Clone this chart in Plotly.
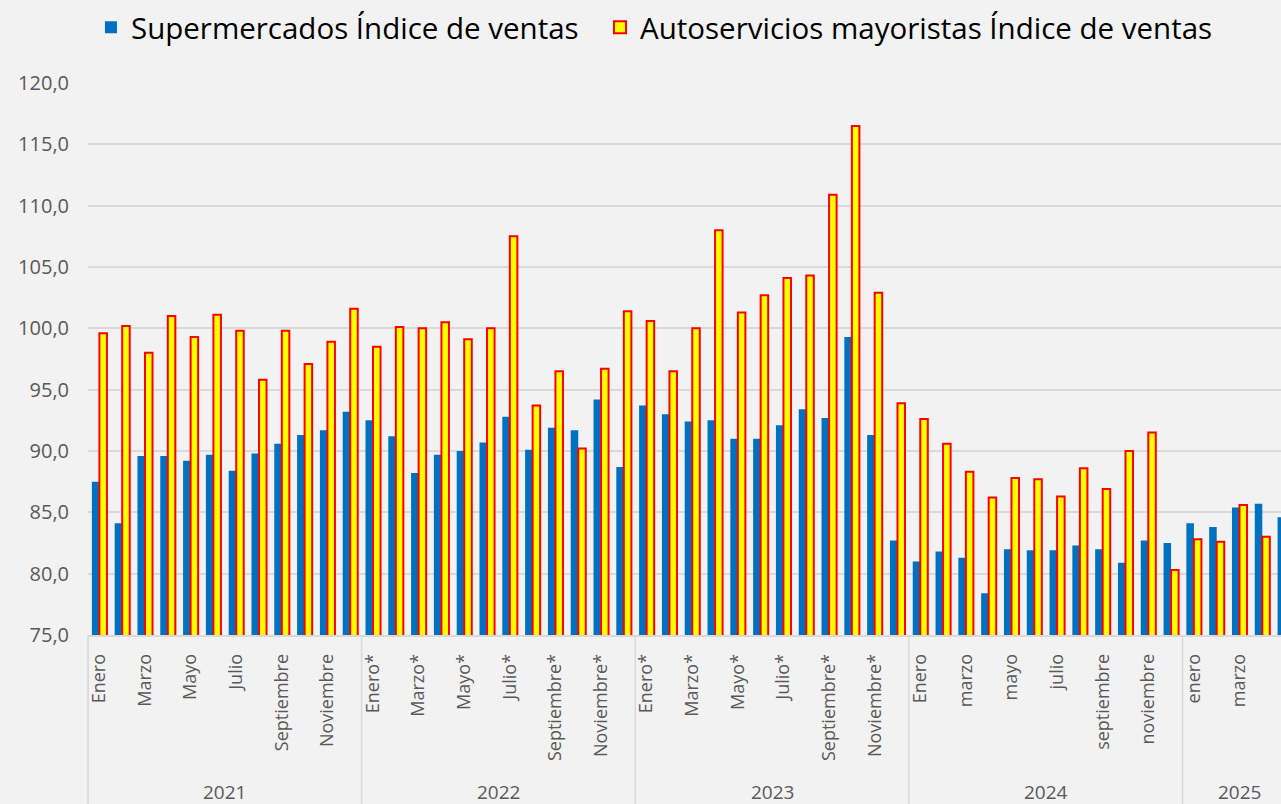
import plotly.graph_objects as go

# Índices de ventas mensuales, enero 2021 - mayo 2025
years = ["2021", "2022", "2023", "2024", "2025"]
months_per_year = [12, 12, 12, 12, 5]

month_labels = [
    # 2021
    "Enero", "Febrero", "Marzo", "Abril", "Mayo", "Junio",
    "Julio", "Agosto", "Septiembre", "Octubre", "Noviembre", "Diciembre",
    # 2022
    "Enero*", "Febrero*", "Marzo*", "Abril*", "Mayo*", "Junio*",
    "Julio*", "Agosto*", "Septiembre*", "Octubre*", "Noviembre*", "Diciembre*",
    # 2023
    "Enero*", "Febrero*", "Marzo*", "Abril*", "Mayo*", "Junio*",
    "Julio*", "Agosto*", "Septiembre*", "Octubre*", "Noviembre*", "Diciembre*",
    # 2024
    "Enero", "febrero", "marzo", "abril", "mayo", "junio",
    "julio", "agosto", "septiembre", "octubre", "noviembre", "diciembre",
    # 2025
    "enero", "febrero", "marzo", "abril", "mayo",
]

supermercados = [
    87.5, 84.1, 89.6, 89.6, 89.2, 89.7, 88.4, 89.8, 90.6, 91.3, 91.7, 93.2,
    92.5, 91.2, 88.2, 89.7, 90.0, 90.7, 92.8, 90.1, 91.9, 91.7, 94.2, 88.7,
    93.7, 93.0, 92.4, 92.5, 91.0, 91.0, 92.1, 93.4, 92.7, 99.3, 91.3, 82.7,
    81.0, 81.8, 81.3, 78.4, 82.0, 81.9, 81.9, 82.3, 82.0, 80.9, 82.7, 82.5,
    84.1, 83.8, 85.4, 85.7, 84.6,
]

autoservicios = [
    99.6, 100.2, 98.0, 101.0, 99.3, 101.1, 99.8, 95.8, 99.8, 97.1, 98.9, 101.6,
    98.5, 100.1, 100.0, 100.5, 99.1, 100.0, 107.5, 93.7, 96.5, 90.2, 96.7, 101.4,
    100.6, 96.5, 100.0, 108.0, 101.3, 102.7, 104.1, 104.3, 110.9, 116.5, 102.9, 93.9,
    92.6, 90.6, 88.3, 86.2, 87.8, 87.7, 86.3, 88.6, 86.9, 90.0, 91.5, 80.3,
    82.8, 82.6, 85.6, 83.0, None,
]


def main():
    # one category per month, e.g. "2021-01"
    periods = []
    for year, n in zip(years, months_per_year):
        for m in range(n):
            periods.append(f"{year}-{m + 1:02d}")

    grey = "#595959"
    grid = "#d9d9d9"

    fig = go.Figure()
    fig.add_trace(
        go.Bar(
            x=periods,
            y=supermercados,
            name="Supermercados Índice de ventas",
            marker=dict(color="#0070c0", line=dict(width=0)),
            legend="legend",
        )
    )
    fig.add_trace(
        go.Bar(
            x=periods,
            y=autoservicios,
            name="Autoservicios mayoristas Índice de ventas",
            marker=dict(color="#ffff00", line=dict(color="#ff0000", width=2)),
            legend="legend2",
        )
    )

    # year separators and year labels below the month labels
    shapes = []
    annotations = []
    start = 0
    for year, n in zip(years, months_per_year):
        shapes.append(
            dict(
                type="line", xref="x", yref="paper",
                x0=start - 0.5, x1=start - 0.5, y0=0, y1=-0.4,
                line=dict(color=grid, width=1.5),
            )
        )
        annotations.append(
            dict(
                text=year, xref="x", yref="paper",
                x=start + (n - 1) / 2, y=-0.284,
                showarrow=False, yanchor="middle",
                font=dict(size=19, color=grey),
            )
        )
        start += n
    shapes.append(
        dict(
            type="line", xref="paper", yref="paper",
            x0=0, x1=0, y0=0, y1=-0.4,
            line=dict(color=grid, width=1.5),
        )
    )

    legend_style = dict(
        orientation="h",
        xref="container", yref="container",
        xanchor="left",
        y=0.998, yanchor="top",
        font=dict(size=29.5, color="#000000"),
        bgcolor="rgba(0,0,0,0)",
    )

    fig.update_layout(
        width=1281,
        height=804,
        margin=dict(l=88, r=0, t=83, b=169),
        paper_bgcolor="#f2f2f2",
        plot_bgcolor="#f2f2f2",
        font=dict(family="Open Sans", color=grey),
        separators=",.",
        barmode="group",
        bargap=0.34,
        bargroupgap=0,
        showlegend=True,
        legend=dict(x=0.071, **legend_style),
        legend2=dict(x=0.4684, **legend_style),
        shapes=shapes,
        annotations=annotations,
    )
    fig.update_xaxes(
        type="category",
        range=[-0.5, 51.82],
        tickvals=periods[::2],
        ticktext=month_labels[::2],
        tickangle=-90,
        tickfont=dict(size=18, color=grey),
        ticklabelstandoff=10,
        showgrid=False,
        showline=True,
        linecolor=grid,
        linewidth=1.5,
        ticks="",
    )
    fig.update_yaxes(
        range=[75, 120],
        dtick=5,
        tickformat=".1f",
        tickfont=dict(size=20, color=grey),
        showgrid=True,
        gridcolor=grid,
        gridwidth=1.5,
        zeroline=False,
        ticklabelstandoff=18,
    )

    # drop the default page margin so the figure fills the window
    fig.write_html(
        "out.html",
        config={"displayModeBar": False},
        post_script="document.body.style.margin = '0';",
    )


if __name__ == "__main__":
    main()
